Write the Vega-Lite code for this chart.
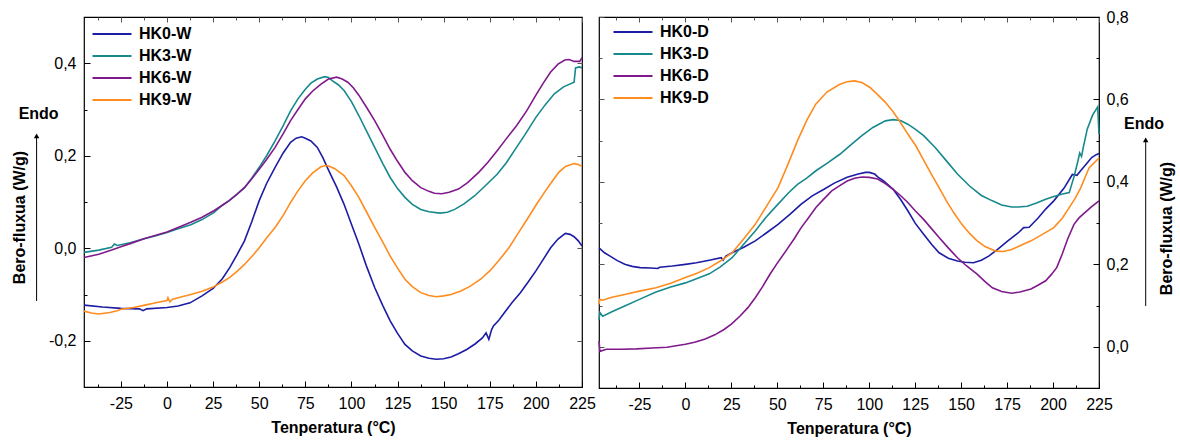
{
  "$schema": "https://vega.github.io/schema/vega-lite/v6.json",
  "background": "white",
  "padding": {"left": 10, "top": 8, "right": 5, "bottom": 5},
  "bounds": "flush",
  "spacing": 17,
  "resolve": {"scale": {"color": "independent"}, "legend": {"color": "independent"}},
  "config": {
    "font": "Liberation Sans",
    "view": {"stroke": "#000", "strokeWidth": 1.2},
    "axis": {
      "grid": false,
      "domain": false,
      "labelFont": "Liberation Sans",
      "labelFontSize": 16,
      "labelColor": "#000",
      "titleFont": "Liberation Sans",
      "titleFontSize": 16,
      "titleFontWeight": "bold",
      "titleColor": "#000",
      "tickColor": "#000",
      "tickWidth": 1,
      "labelFlush": false,
      "labelOverlap": false
    },
    "legend": {
      "labelFont": "Liberation Sans",
      "labelFontSize": 16,
      "labelFontWeight": "bold",
      "labelColor": "#000",
      "padding": 0
    }
  },
  "datasets": {
    "W": [
      {"s": "HK0-W", "t": -45, "q": -0.123}, {"s": "HK0-W", "t": -35, "q": -0.127}, {"s": "HK0-W", "t": -25, "q": -0.130}, {"s": "HK0-W", "t": -15, "q": -0.131}, {"s": "HK0-W", "t": -13, "q": -0.135}, {"s": "HK0-W", "t": -11, "q": -0.131}, {"s": "HK0-W", "t": 0, "q": -0.128}, {"s": "HK0-W", "t": 6, "q": -0.125}, {"s": "HK0-W", "t": 12.5, "q": -0.118}, {"s": "HK0-W", "t": 19, "q": -0.103}, {"s": "HK0-W", "t": 25, "q": -0.087}, {"s": "HK0-W", "t": 30, "q": -0.066}, {"s": "HK0-W", "t": 34, "q": -0.042}, {"s": "HK0-W", "t": 38, "q": -0.014}, {"s": "HK0-W", "t": 42, "q": 0.016}, {"s": "HK0-W", "t": 46, "q": 0.058}, {"s": "HK0-W", "t": 50, "q": 0.103}, {"s": "HK0-W", "t": 54, "q": 0.140}, {"s": "HK0-W", "t": 58.6, "q": 0.175}, {"s": "HK0-W", "t": 63, "q": 0.206}, {"s": "HK0-W", "t": 67, "q": 0.229}, {"s": "HK0-W", "t": 70, "q": 0.238}, {"s": "HK0-W", "t": 73, "q": 0.241}, {"s": "HK0-W", "t": 75, "q": 0.238}, {"s": "HK0-W", "t": 78, "q": 0.232}, {"s": "HK0-W", "t": 81.5, "q": 0.218}, {"s": "HK0-W", "t": 84.5, "q": 0.196}, {"s": "HK0-W", "t": 87.7, "q": 0.168}, {"s": "HK0-W", "t": 92, "q": 0.132}, {"s": "HK0-W", "t": 96, "q": 0.095}, {"s": "HK0-W", "t": 100, "q": 0.052}, {"s": "HK0-W", "t": 104, "q": 0.009}, {"s": "HK0-W", "t": 108, "q": -0.037}, {"s": "HK0-W", "t": 112.6, "q": -0.085}, {"s": "HK0-W", "t": 117, "q": -0.124}, {"s": "HK0-W", "t": 121, "q": -0.157}, {"s": "HK0-W", "t": 125, "q": -0.184}, {"s": "HK0-W", "t": 129, "q": -0.208}, {"s": "HK0-W", "t": 133, "q": -0.222}, {"s": "HK0-W", "t": 137.6, "q": -0.233}, {"s": "HK0-W", "t": 142, "q": -0.238}, {"s": "HK0-W", "t": 146, "q": -0.240}, {"s": "HK0-W", "t": 150, "q": -0.239}, {"s": "HK0-W", "t": 154, "q": -0.235}, {"s": "HK0-W", "t": 158, "q": -0.228}, {"s": "HK0-W", "t": 162.5, "q": -0.219}, {"s": "HK0-W", "t": 167, "q": -0.207}, {"s": "HK0-W", "t": 171, "q": -0.194}, {"s": "HK0-W", "t": 173, "q": -0.183}, {"s": "HK0-W", "t": 174.5, "q": -0.197}, {"s": "HK0-W", "t": 176, "q": -0.176}, {"s": "HK0-W", "t": 177, "q": -0.168}, {"s": "HK0-W", "t": 180, "q": -0.155}, {"s": "HK0-W", "t": 183, "q": -0.139}, {"s": "HK0-W", "t": 187, "q": -0.118}, {"s": "HK0-W", "t": 191.6, "q": -0.096}, {"s": "HK0-W", "t": 196, "q": -0.072}, {"s": "HK0-W", "t": 200, "q": -0.049}, {"s": "HK0-W", "t": 204, "q": -0.024}, {"s": "HK0-W", "t": 208, "q": 0.001}, {"s": "HK0-W", "t": 212, "q": 0.020}, {"s": "HK0-W", "t": 216, "q": 0.032}, {"s": "HK0-W", "t": 218.5, "q": 0.030}, {"s": "HK0-W", "t": 220.7, "q": 0.025}, {"s": "HK0-W", "t": 223, "q": 0.016}, {"s": "HK0-W", "t": 225, "q": 0.005},

      {"s": "HK3-W", "t": -45, "q": -0.009}, {"s": "HK3-W", "t": -37, "q": -0.004}, {"s": "HK3-W", "t": -30, "q": 0.002}, {"s": "HK3-W", "t": -28.5, "q": 0.009}, {"s": "HK3-W", "t": -27, "q": 0.006}, {"s": "HK3-W", "t": -20, "q": 0.012}, {"s": "HK3-W", "t": -12, "q": 0.021}, {"s": "HK3-W", "t": -6, "q": 0.027}, {"s": "HK3-W", "t": 0, "q": 0.034}, {"s": "HK3-W", "t": 6, "q": 0.042}, {"s": "HK3-W", "t": 12.9, "q": 0.051}, {"s": "HK3-W", "t": 19, "q": 0.062}, {"s": "HK3-W", "t": 25.4, "q": 0.077}, {"s": "HK3-W", "t": 30, "q": 0.093}, {"s": "HK3-W", "t": 33.7, "q": 0.103}, {"s": "HK3-W", "t": 38, "q": 0.117}, {"s": "HK3-W", "t": 42, "q": 0.131}, {"s": "HK3-W", "t": 46, "q": 0.152}, {"s": "HK3-W", "t": 50, "q": 0.175}, {"s": "HK3-W", "t": 54, "q": 0.200}, {"s": "HK3-W", "t": 58.6, "q": 0.232}, {"s": "HK3-W", "t": 63, "q": 0.265}, {"s": "HK3-W", "t": 67, "q": 0.297}, {"s": "HK3-W", "t": 71, "q": 0.323}, {"s": "HK3-W", "t": 75, "q": 0.344}, {"s": "HK3-W", "t": 78, "q": 0.357}, {"s": "HK3-W", "t": 81.5, "q": 0.366}, {"s": "HK3-W", "t": 85.6, "q": 0.371}, {"s": "HK3-W", "t": 87.5, "q": 0.369}, {"s": "HK3-W", "t": 89.8, "q": 0.362}, {"s": "HK3-W", "t": 93, "q": 0.353}, {"s": "HK3-W", "t": 96, "q": 0.341}, {"s": "HK3-W", "t": 100, "q": 0.317}, {"s": "HK3-W", "t": 104, "q": 0.287}, {"s": "HK3-W", "t": 108, "q": 0.255}, {"s": "HK3-W", "t": 112.6, "q": 0.218}, {"s": "HK3-W", "t": 117, "q": 0.183}, {"s": "HK3-W", "t": 121, "q": 0.153}, {"s": "HK3-W", "t": 125, "q": 0.129}, {"s": "HK3-W", "t": 129, "q": 0.110}, {"s": "HK3-W", "t": 133, "q": 0.095}, {"s": "HK3-W", "t": 137.6, "q": 0.084}, {"s": "HK3-W", "t": 142, "q": 0.079}, {"s": "HK3-W", "t": 148, "q": 0.076}, {"s": "HK3-W", "t": 152, "q": 0.078}, {"s": "HK3-W", "t": 156, "q": 0.084}, {"s": "HK3-W", "t": 161, "q": 0.096}, {"s": "HK3-W", "t": 166.7, "q": 0.113}, {"s": "HK3-W", "t": 172, "q": 0.133}, {"s": "HK3-W", "t": 179, "q": 0.160}, {"s": "HK3-W", "t": 184, "q": 0.185}, {"s": "HK3-W", "t": 189.5, "q": 0.218}, {"s": "HK3-W", "t": 194, "q": 0.245}, {"s": "HK3-W", "t": 200, "q": 0.283}, {"s": "HK3-W", "t": 205, "q": 0.310}, {"s": "HK3-W", "t": 210, "q": 0.334}, {"s": "HK3-W", "t": 215, "q": 0.349}, {"s": "HK3-W", "t": 220.7, "q": 0.359}, {"s": "HK3-W", "t": 221.5, "q": 0.390}, {"s": "HK3-W", "t": 223.5, "q": 0.392}, {"s": "HK3-W", "t": 225, "q": 0.390},

      {"s": "HK6-W", "t": -45, "q": -0.020}, {"s": "HK6-W", "t": -37, "q": -0.013}, {"s": "HK6-W", "t": -30, "q": -0.004}, {"s": "HK6-W", "t": -25, "q": 0.003}, {"s": "HK6-W", "t": -20, "q": 0.010}, {"s": "HK6-W", "t": -12, "q": 0.021}, {"s": "HK6-W", "t": -6, "q": 0.028}, {"s": "HK6-W", "t": 0, "q": 0.035}, {"s": "HK6-W", "t": 6, "q": 0.045}, {"s": "HK6-W", "t": 12.9, "q": 0.056}, {"s": "HK6-W", "t": 19, "q": 0.067}, {"s": "HK6-W", "t": 25.4, "q": 0.081}, {"s": "HK6-W", "t": 30, "q": 0.093}, {"s": "HK6-W", "t": 33.7, "q": 0.103}, {"s": "HK6-W", "t": 38, "q": 0.117}, {"s": "HK6-W", "t": 42, "q": 0.131}, {"s": "HK6-W", "t": 46, "q": 0.150}, {"s": "HK6-W", "t": 50, "q": 0.171}, {"s": "HK6-W", "t": 54, "q": 0.192}, {"s": "HK6-W", "t": 58.6, "q": 0.218}, {"s": "HK6-W", "t": 63, "q": 0.248}, {"s": "HK6-W", "t": 67, "q": 0.276}, {"s": "HK6-W", "t": 71, "q": 0.300}, {"s": "HK6-W", "t": 75, "q": 0.323}, {"s": "HK6-W", "t": 79, "q": 0.340}, {"s": "HK6-W", "t": 83.5, "q": 0.355}, {"s": "HK6-W", "t": 87.5, "q": 0.366}, {"s": "HK6-W", "t": 92, "q": 0.370}, {"s": "HK6-W", "t": 95, "q": 0.366}, {"s": "HK6-W", "t": 98, "q": 0.359}, {"s": "HK6-W", "t": 101, "q": 0.347}, {"s": "HK6-W", "t": 104, "q": 0.331}, {"s": "HK6-W", "t": 108, "q": 0.306}, {"s": "HK6-W", "t": 112.6, "q": 0.276}, {"s": "HK6-W", "t": 117, "q": 0.244}, {"s": "HK6-W", "t": 121, "q": 0.214}, {"s": "HK6-W", "t": 125, "q": 0.188}, {"s": "HK6-W", "t": 129, "q": 0.164}, {"s": "HK6-W", "t": 133, "q": 0.146}, {"s": "HK6-W", "t": 137.6, "q": 0.131}, {"s": "HK6-W", "t": 142, "q": 0.123}, {"s": "HK6-W", "t": 145, "q": 0.119}, {"s": "HK6-W", "t": 149, "q": 0.118}, {"s": "HK6-W", "t": 153, "q": 0.121}, {"s": "HK6-W", "t": 158, "q": 0.128}, {"s": "HK6-W", "t": 163, "q": 0.142}, {"s": "HK6-W", "t": 169, "q": 0.164}, {"s": "HK6-W", "t": 174, "q": 0.186}, {"s": "HK6-W", "t": 179, "q": 0.211}, {"s": "HK6-W", "t": 184, "q": 0.237}, {"s": "HK6-W", "t": 189.5, "q": 0.265}, {"s": "HK6-W", "t": 195, "q": 0.297}, {"s": "HK6-W", "t": 200, "q": 0.331}, {"s": "HK6-W", "t": 204, "q": 0.357}, {"s": "HK6-W", "t": 208, "q": 0.381}, {"s": "HK6-W", "t": 212, "q": 0.398}, {"s": "HK6-W", "t": 215.7, "q": 0.407}, {"s": "HK6-W", "t": 218, "q": 0.408}, {"s": "HK6-W", "t": 220.7, "q": 0.404}, {"s": "HK6-W", "t": 223.8, "q": 0.404}, {"s": "HK6-W", "t": 225, "q": 0.412},

      {"s": "HK9-W", "t": -45, "q": -0.136}, {"s": "HK9-W", "t": -41, "q": -0.140}, {"s": "HK9-W", "t": -37, "q": -0.142}, {"s": "HK9-W", "t": -31, "q": -0.139}, {"s": "HK9-W", "t": -27, "q": -0.135}, {"s": "HK9-W", "t": -25, "q": -0.132}, {"s": "HK9-W", "t": -18, "q": -0.128}, {"s": "HK9-W", "t": -12, "q": -0.123}, {"s": "HK9-W", "t": -6, "q": -0.118}, {"s": "HK9-W", "t": 0, "q": -0.113}, {"s": "HK9-W", "t": 0.5, "q": -0.107}, {"s": "HK9-W", "t": 1.5, "q": -0.116}, {"s": "HK9-W", "t": 3, "q": -0.110}, {"s": "HK9-W", "t": 6, "q": -0.107}, {"s": "HK9-W", "t": 12.9, "q": -0.100}, {"s": "HK9-W", "t": 19, "q": -0.093}, {"s": "HK9-W", "t": 25, "q": -0.084}, {"s": "HK9-W", "t": 30, "q": -0.073}, {"s": "HK9-W", "t": 33.7, "q": -0.064}, {"s": "HK9-W", "t": 38, "q": -0.050}, {"s": "HK9-W", "t": 42, "q": -0.035}, {"s": "HK9-W", "t": 46, "q": -0.018}, {"s": "HK9-W", "t": 50, "q": 0.001}, {"s": "HK9-W", "t": 54, "q": 0.022}, {"s": "HK9-W", "t": 58.6, "q": 0.045}, {"s": "HK9-W", "t": 63, "q": 0.071}, {"s": "HK9-W", "t": 67, "q": 0.099}, {"s": "HK9-W", "t": 71, "q": 0.124}, {"s": "HK9-W", "t": 75, "q": 0.146}, {"s": "HK9-W", "t": 79, "q": 0.163}, {"s": "HK9-W", "t": 83.5, "q": 0.176}, {"s": "HK9-W", "t": 86, "q": 0.179}, {"s": "HK9-W", "t": 87.7, "q": 0.178}, {"s": "HK9-W", "t": 91, "q": 0.172}, {"s": "HK9-W", "t": 96, "q": 0.157}, {"s": "HK9-W", "t": 100, "q": 0.135}, {"s": "HK9-W", "t": 104, "q": 0.110}, {"s": "HK9-W", "t": 108, "q": 0.080}, {"s": "HK9-W", "t": 112.6, "q": 0.045}, {"s": "HK9-W", "t": 117, "q": 0.013}, {"s": "HK9-W", "t": 121, "q": -0.017}, {"s": "HK9-W", "t": 125, "q": -0.043}, {"s": "HK9-W", "t": 129, "q": -0.067}, {"s": "HK9-W", "t": 133, "q": -0.083}, {"s": "HK9-W", "t": 137.6, "q": -0.096}, {"s": "HK9-W", "t": 142, "q": -0.102}, {"s": "HK9-W", "t": 146, "q": -0.105}, {"s": "HK9-W", "t": 150, "q": -0.103}, {"s": "HK9-W", "t": 154, "q": -0.100}, {"s": "HK9-W", "t": 159, "q": -0.093}, {"s": "HK9-W", "t": 164.5, "q": -0.082}, {"s": "HK9-W", "t": 170, "q": -0.067}, {"s": "HK9-W", "t": 175, "q": -0.049}, {"s": "HK9-W", "t": 180, "q": -0.026}, {"s": "HK9-W", "t": 185.4, "q": 0.001}, {"s": "HK9-W", "t": 190, "q": 0.030}, {"s": "HK9-W", "t": 195.8, "q": 0.066}, {"s": "HK9-W", "t": 200, "q": 0.093}, {"s": "HK9-W", "t": 204, "q": 0.117}, {"s": "HK9-W", "t": 208, "q": 0.140}, {"s": "HK9-W", "t": 212.4, "q": 0.164}, {"s": "HK9-W", "t": 216, "q": 0.177}, {"s": "HK9-W", "t": 220.7, "q": 0.183}, {"s": "HK9-W", "t": 223, "q": 0.181}, {"s": "HK9-W", "t": 225, "q": 0.177}
    ],
    "D": [
      {"s": "HK0-D", "t": -47, "q": 0.240}, {"s": "HK0-D", "t": -44, "q": 0.228}, {"s": "HK0-D", "t": -41, "q": 0.220}, {"s": "HK0-D", "t": -37, "q": 0.209}, {"s": "HK0-D", "t": -33, "q": 0.200}, {"s": "HK0-D", "t": -29, "q": 0.195}, {"s": "HK0-D", "t": -24.6, "q": 0.192}, {"s": "HK0-D", "t": -19, "q": 0.191}, {"s": "HK0-D", "t": -15, "q": 0.190}, {"s": "HK0-D", "t": -14, "q": 0.193}, {"s": "HK0-D", "t": -7, "q": 0.196}, {"s": "HK0-D", "t": 0, "q": 0.200}, {"s": "HK0-D", "t": 6, "q": 0.204}, {"s": "HK0-D", "t": 13, "q": 0.210}, {"s": "HK0-D", "t": 19.5, "q": 0.216}, {"s": "HK0-D", "t": 20.5, "q": 0.210}, {"s": "HK0-D", "t": 22, "q": 0.220}, {"s": "HK0-D", "t": 25.4, "q": 0.228}, {"s": "HK0-D", "t": 32, "q": 0.242}, {"s": "HK0-D", "t": 38, "q": 0.257}, {"s": "HK0-D", "t": 44, "q": 0.276}, {"s": "HK0-D", "t": 50.4, "q": 0.297}, {"s": "HK0-D", "t": 57, "q": 0.322}, {"s": "HK0-D", "t": 63, "q": 0.346}, {"s": "HK0-D", "t": 69, "q": 0.366}, {"s": "HK0-D", "t": 75.4, "q": 0.382}, {"s": "HK0-D", "t": 81, "q": 0.397}, {"s": "HK0-D", "t": 88, "q": 0.411}, {"s": "HK0-D", "t": 94, "q": 0.419}, {"s": "HK0-D", "t": 98, "q": 0.423}, {"s": "HK0-D", "t": 100, "q": 0.423}, {"s": "HK0-D", "t": 103, "q": 0.419}, {"s": "HK0-D", "t": 104.6, "q": 0.412}, {"s": "HK0-D", "t": 108, "q": 0.402}, {"s": "HK0-D", "t": 113, "q": 0.382}, {"s": "HK0-D", "t": 117, "q": 0.358}, {"s": "HK0-D", "t": 121, "q": 0.330}, {"s": "HK0-D", "t": 125, "q": 0.300}, {"s": "HK0-D", "t": 129.6, "q": 0.273}, {"s": "HK0-D", "t": 134, "q": 0.248}, {"s": "HK0-D", "t": 138, "q": 0.228}, {"s": "HK0-D", "t": 143, "q": 0.215}, {"s": "HK0-D", "t": 148, "q": 0.208}, {"s": "HK0-D", "t": 152, "q": 0.205}, {"s": "HK0-D", "t": 156.7, "q": 0.204}, {"s": "HK0-D", "t": 161, "q": 0.210}, {"s": "HK0-D", "t": 165, "q": 0.220}, {"s": "HK0-D", "t": 170, "q": 0.237}, {"s": "HK0-D", "t": 175.4, "q": 0.257}, {"s": "HK0-D", "t": 181, "q": 0.276}, {"s": "HK0-D", "t": 184, "q": 0.289}, {"s": "HK0-D", "t": 187, "q": 0.290}, {"s": "HK0-D", "t": 192, "q": 0.313}, {"s": "HK0-D", "t": 196, "q": 0.334}, {"s": "HK0-D", "t": 200.4, "q": 0.354}, {"s": "HK0-D", "t": 206, "q": 0.385}, {"s": "HK0-D", "t": 210.5, "q": 0.418}, {"s": "HK0-D", "t": 213, "q": 0.416}, {"s": "HK0-D", "t": 215, "q": 0.427}, {"s": "HK0-D", "t": 218, "q": 0.443}, {"s": "HK0-D", "t": 221, "q": 0.459}, {"s": "HK0-D", "t": 223.5, "q": 0.466}, {"s": "HK0-D", "t": 225, "q": 0.469},

      {"s": "HK3-D", "t": -47, "q": 0.066}, {"s": "HK3-D", "t": -46.5, "q": 0.083}, {"s": "HK3-D", "t": -45, "q": 0.074}, {"s": "HK3-D", "t": -40, "q": 0.085}, {"s": "HK3-D", "t": -33, "q": 0.099}, {"s": "HK3-D", "t": -25, "q": 0.115}, {"s": "HK3-D", "t": -16, "q": 0.133}, {"s": "HK3-D", "t": -8, "q": 0.145}, {"s": "HK3-D", "t": 0, "q": 0.155}, {"s": "HK3-D", "t": 6, "q": 0.165}, {"s": "HK3-D", "t": 13, "q": 0.177}, {"s": "HK3-D", "t": 19, "q": 0.194}, {"s": "HK3-D", "t": 25.4, "q": 0.216}, {"s": "HK3-D", "t": 31, "q": 0.245}, {"s": "HK3-D", "t": 38, "q": 0.281}, {"s": "HK3-D", "t": 44, "q": 0.315}, {"s": "HK3-D", "t": 50.4, "q": 0.346}, {"s": "HK3-D", "t": 56, "q": 0.373}, {"s": "HK3-D", "t": 61, "q": 0.394}, {"s": "HK3-D", "t": 66, "q": 0.409}, {"s": "HK3-D", "t": 71, "q": 0.427}, {"s": "HK3-D", "t": 77, "q": 0.445}, {"s": "HK3-D", "t": 84, "q": 0.467}, {"s": "HK3-D", "t": 90, "q": 0.490}, {"s": "HK3-D", "t": 96, "q": 0.512}, {"s": "HK3-D", "t": 102, "q": 0.532}, {"s": "HK3-D", "t": 108.8, "q": 0.548}, {"s": "HK3-D", "t": 113, "q": 0.551}, {"s": "HK3-D", "t": 117, "q": 0.549}, {"s": "HK3-D", "t": 121, "q": 0.540}, {"s": "HK3-D", "t": 125, "q": 0.528}, {"s": "HK3-D", "t": 129.6, "q": 0.512}, {"s": "HK3-D", "t": 136, "q": 0.483}, {"s": "HK3-D", "t": 142, "q": 0.451}, {"s": "HK3-D", "t": 148, "q": 0.419}, {"s": "HK3-D", "t": 154.6, "q": 0.390}, {"s": "HK3-D", "t": 161, "q": 0.367}, {"s": "HK3-D", "t": 167, "q": 0.354}, {"s": "HK3-D", "t": 172, "q": 0.344}, {"s": "HK3-D", "t": 177.5, "q": 0.339}, {"s": "HK3-D", "t": 181, "q": 0.339}, {"s": "HK3-D", "t": 186, "q": 0.341}, {"s": "HK3-D", "t": 191, "q": 0.349}, {"s": "HK3-D", "t": 196, "q": 0.358}, {"s": "HK3-D", "t": 200, "q": 0.364}, {"s": "HK3-D", "t": 204.6, "q": 0.370}, {"s": "HK3-D", "t": 208.8, "q": 0.374}, {"s": "HK3-D", "t": 211.5, "q": 0.414}, {"s": "HK3-D", "t": 213.5, "q": 0.450}, {"s": "HK3-D", "t": 214.5, "q": 0.470}, {"s": "HK3-D", "t": 215.5, "q": 0.462}, {"s": "HK3-D", "t": 216.5, "q": 0.485}, {"s": "HK3-D", "t": 218.6, "q": 0.528}, {"s": "HK3-D", "t": 221.5, "q": 0.562}, {"s": "HK3-D", "t": 224.3, "q": 0.582}, {"s": "HK3-D", "t": 225, "q": 0.516},

      {"s": "HK6-D", "t": -47, "q": 0.014}, {"s": "HK6-D", "t": -46.5, "q": -0.011}, {"s": "HK6-D", "t": -43, "q": -0.006}, {"s": "HK6-D", "t": -35, "q": -0.006}, {"s": "HK6-D", "t": -26.7, "q": -0.005}, {"s": "HK6-D", "t": -18, "q": -0.003}, {"s": "HK6-D", "t": -10, "q": -0.001}, {"s": "HK6-D", "t": 0, "q": 0.006}, {"s": "HK6-D", "t": 5, "q": 0.011}, {"s": "HK6-D", "t": 10.8, "q": 0.019}, {"s": "HK6-D", "t": 16, "q": 0.029}, {"s": "HK6-D", "t": 21, "q": 0.042}, {"s": "HK6-D", "t": 25, "q": 0.055}, {"s": "HK6-D", "t": 29.6, "q": 0.074}, {"s": "HK6-D", "t": 34, "q": 0.095}, {"s": "HK6-D", "t": 38, "q": 0.119}, {"s": "HK6-D", "t": 42, "q": 0.146}, {"s": "HK6-D", "t": 46, "q": 0.176}, {"s": "HK6-D", "t": 50, "q": 0.203}, {"s": "HK6-D", "t": 54.6, "q": 0.232}, {"s": "HK6-D", "t": 59, "q": 0.261}, {"s": "HK6-D", "t": 63, "q": 0.289}, {"s": "HK6-D", "t": 67, "q": 0.313}, {"s": "HK6-D", "t": 71, "q": 0.338}, {"s": "HK6-D", "t": 75, "q": 0.357}, {"s": "HK6-D", "t": 79.6, "q": 0.378}, {"s": "HK6-D", "t": 84, "q": 0.391}, {"s": "HK6-D", "t": 88, "q": 0.402}, {"s": "HK6-D", "t": 92, "q": 0.409}, {"s": "HK6-D", "t": 96, "q": 0.412}, {"s": "HK6-D", "t": 100, "q": 0.411}, {"s": "HK6-D", "t": 104.6, "q": 0.407}, {"s": "HK6-D", "t": 108, "q": 0.398}, {"s": "HK6-D", "t": 113, "q": 0.382}, {"s": "HK6-D", "t": 117, "q": 0.367}, {"s": "HK6-D", "t": 121, "q": 0.350}, {"s": "HK6-D", "t": 125, "q": 0.330}, {"s": "HK6-D", "t": 129.6, "q": 0.309}, {"s": "HK6-D", "t": 134, "q": 0.286}, {"s": "HK6-D", "t": 138, "q": 0.265}, {"s": "HK6-D", "t": 143, "q": 0.240}, {"s": "HK6-D", "t": 148, "q": 0.216}, {"s": "HK6-D", "t": 153, "q": 0.196}, {"s": "HK6-D", "t": 158.7, "q": 0.176}, {"s": "HK6-D", "t": 163, "q": 0.158}, {"s": "HK6-D", "t": 167, "q": 0.143}, {"s": "HK6-D", "t": 172, "q": 0.134}, {"s": "HK6-D", "t": 177.5, "q": 0.130}, {"s": "HK6-D", "t": 182, "q": 0.133}, {"s": "HK6-D", "t": 188, "q": 0.140}, {"s": "HK6-D", "t": 192, "q": 0.150}, {"s": "HK6-D", "t": 196, "q": 0.160}, {"s": "HK6-D", "t": 199, "q": 0.175}, {"s": "HK6-D", "t": 202, "q": 0.192}, {"s": "HK6-D", "t": 205, "q": 0.225}, {"s": "HK6-D", "t": 208, "q": 0.262}, {"s": "HK6-D", "t": 211.4, "q": 0.297}, {"s": "HK6-D", "t": 214, "q": 0.312}, {"s": "HK6-D", "t": 217, "q": 0.324}, {"s": "HK6-D", "t": 221, "q": 0.340}, {"s": "HK6-D", "t": 225, "q": 0.354},

      {"s": "HK9-D", "t": -47, "q": 0.103}, {"s": "HK9-D", "t": -46.5, "q": 0.115}, {"s": "HK9-D", "t": -45, "q": 0.113}, {"s": "HK9-D", "t": -40, "q": 0.120}, {"s": "HK9-D", "t": -33, "q": 0.127}, {"s": "HK9-D", "t": -25, "q": 0.135}, {"s": "HK9-D", "t": -16, "q": 0.143}, {"s": "HK9-D", "t": -8, "q": 0.154}, {"s": "HK9-D", "t": 0, "q": 0.168}, {"s": "HK9-D", "t": 6, "q": 0.178}, {"s": "HK9-D", "t": 13, "q": 0.192}, {"s": "HK9-D", "t": 19, "q": 0.208}, {"s": "HK9-D", "t": 25.4, "q": 0.228}, {"s": "HK9-D", "t": 31, "q": 0.258}, {"s": "HK9-D", "t": 38, "q": 0.297}, {"s": "HK9-D", "t": 44, "q": 0.340}, {"s": "HK9-D", "t": 50.4, "q": 0.386}, {"s": "HK9-D", "t": 56, "q": 0.445}, {"s": "HK9-D", "t": 61, "q": 0.500}, {"s": "HK9-D", "t": 66, "q": 0.549}, {"s": "HK9-D", "t": 71, "q": 0.589}, {"s": "HK9-D", "t": 77, "q": 0.618}, {"s": "HK9-D", "t": 84, "q": 0.637}, {"s": "HK9-D", "t": 88, "q": 0.643}, {"s": "HK9-D", "t": 92, "q": 0.645}, {"s": "HK9-D", "t": 96, "q": 0.641}, {"s": "HK9-D", "t": 100.4, "q": 0.629}, {"s": "HK9-D", "t": 104, "q": 0.614}, {"s": "HK9-D", "t": 108.8, "q": 0.593}, {"s": "HK9-D", "t": 113, "q": 0.570}, {"s": "HK9-D", "t": 117, "q": 0.544}, {"s": "HK9-D", "t": 121, "q": 0.516}, {"s": "HK9-D", "t": 125.4, "q": 0.487}, {"s": "HK9-D", "t": 129.6, "q": 0.453}, {"s": "HK9-D", "t": 133.8, "q": 0.419}, {"s": "HK9-D", "t": 138, "q": 0.386}, {"s": "HK9-D", "t": 142, "q": 0.354}, {"s": "HK9-D", "t": 146, "q": 0.325}, {"s": "HK9-D", "t": 150.4, "q": 0.297}, {"s": "HK9-D", "t": 154.6, "q": 0.275}, {"s": "HK9-D", "t": 158.7, "q": 0.257}, {"s": "HK9-D", "t": 163, "q": 0.243}, {"s": "HK9-D", "t": 169, "q": 0.232}, {"s": "HK9-D", "t": 173, "q": 0.231}, {"s": "HK9-D", "t": 177.5, "q": 0.236}, {"s": "HK9-D", "t": 182, "q": 0.245}, {"s": "HK9-D", "t": 188, "q": 0.257}, {"s": "HK9-D", "t": 194, "q": 0.272}, {"s": "HK9-D", "t": 200.4, "q": 0.289}, {"s": "HK9-D", "t": 205, "q": 0.312}, {"s": "HK9-D", "t": 208.7, "q": 0.337}, {"s": "HK9-D", "t": 212, "q": 0.360}, {"s": "HK9-D", "t": 215, "q": 0.385}, {"s": "HK9-D", "t": 217.5, "q": 0.412}, {"s": "HK9-D", "t": 219.6, "q": 0.434}, {"s": "HK9-D", "t": 225, "q": 0.458}
    ],
    "annW": [{"label": "Endo", "x": -70.7, "xt": -69.6, "yt": 0.290, "y": -0.114, "y2": 0.240, "tip": 0.243}],
    "annD": [{"label": "Endo", "x": 250.4, "xt": 249.5, "yt": 0.541, "y": 0.099, "y2": 0.500, "tip": 0.502}]
  },
  "hconcat": [
    {
      "width": 498,
      "height": 370,
      "layer": [
        {
          "data": {"name": "W"},
          "mark": {"type": "line", "strokeWidth": 1.6},
          "encoding": {
            "x": {
              "field": "t", "type": "quantitative",
              "scale": {"domain": [-45, 225], "nice": false, "zero": false},
              "axis": {
                "orient": "bottom", "ticks": false,
                "values": [-25, 0, 25, 50, 75, 100, 125, 150, 175, 200, 225],
                "labelExpr": "toString(datum.value)",
                "labelPadding": 8,
                "title": "Tenperatura (°C)",
                "titlePadding": 8
              }
            },
            "y": {
              "field": "q", "type": "quantitative",
              "scale": {"domain": [-0.3, 0.5], "nice": false, "zero": false},
              "axis": {
                "orient": "left", "ticks": false,
                "values": [-0.2, 0, 0.2, 0.4],
                "labelExpr": "replace(replace(format(datum.value, '.1f'), '.', ','), '\u2212', '-')",
                "labelPadding": 8,
                "title": "Bero-fluxua (W/g)",
                "titleX": -57,
                "titleY": 200
              }
            },
            "color": {
              "field": "s", "type": "nominal",
              "scale": {"domain": ["HK0-W", "HK3-W", "HK6-W", "HK9-W"], "range": ["#1c1ca5", "#17898c", "#801a8c", "#ff8c1e"]},
              "legend": {
                "orient": "none", "legendX": 20, "legendY": 9, "title": null,
                "symbolType": "M-3,0H3", "symbolSize": 169, "symbolStrokeWidth": 2,
                "labelOffset": 19, "rowPadding": 6
              }
            }
          }
        },
        {
          "data": {"name": "annW"},
          "mark": {"type": "rule", "strokeWidth": 1, "color": "#000", "clip": false},
          "encoding": {
            "x": {"field": "x", "type": "quantitative", "axis": {
              "orient": "bottom", "values": [-25, 0, 25, 50, 75, 100, 125, 150, 175, 200, 225],
              "labels": false, "title": null, "tickSize": -6
            }},
            "y": {"field": "y", "type": "quantitative", "axis": {
              "orient": "left", "values": [-0.2, 0, 0.2, 0.4],
              "labels": false, "title": null, "tickSize": -6
            }},
            "y2": {"field": "y2"}
          }
        },
        {
          "data": {"name": "annW"},
          "mark": {"type": "point", "shape": "triangle-up", "filled": true, "color": "#000", "size": 30, "opacity": 1, "clip": false},
          "encoding": {
            "x": {"field": "x", "type": "quantitative", "axis": {
              "orient": "bottom", "values": [-37.5, -12.5, 12.5, 37.5, 62.5, 87.5, 112.5, 137.5, 162.5, 187.5, 212.5],
              "labels": false, "title": null, "tickSize": -3
            }},
            "y": {"field": "tip", "type": "quantitative", "axis": {
              "orient": "left", "values": [-0.1, 0.1, 0.3],
              "labels": false, "title": null, "tickSize": -3
            }}
          }
        },
        {
          "data": {"name": "annW"},
          "mark": {"type": "text", "fontSize": 16, "fontWeight": "bold", "color": "#000", "clip": false},
          "encoding": {
            "x": {"field": "xt", "type": "quantitative", "axis": {
              "orient": "top", "values": [-25, 0, 25, 50, 75, 100, 125, 150, 175, 200, 225],
              "labels": false, "title": null, "tickSize": -5, "tickColor": "#555"
            }},
            "y": {"field": "yt", "type": "quantitative", "axis": {
              "orient": "right", "values": [-0.2, 0, 0.2, 0.4],
              "labels": false, "title": null, "tickSize": -5, "tickColor": "#555"
            }},
            "text": {"field": "label"}
          }
        },
        {
          "data": {"name": "annW"},
          "mark": {"type": "point", "opacity": 0, "clip": false},
          "encoding": {
            "x": {"field": "xt", "type": "quantitative", "axis": {
              "orient": "top", "values": [-37.5, -12.5, 12.5, 37.5, 62.5, 87.5, 112.5, 137.5, 162.5, 187.5, 212.5],
              "labels": false, "title": null, "tickSize": -3, "tickColor": "#555"
            }},
            "y": {"field": "yt", "type": "quantitative", "axis": {
              "orient": "right", "values": [-0.1, 0.1, 0.3],
              "labels": false, "title": null, "tickSize": -3, "tickColor": "#555"
            }}
          }
        }
      ],
      "resolve": {"axis": {"x": "independent", "y": "independent"}}
    },
    {
      "width": 500,
      "height": 371,
      "layer": [
        {
          "data": {"name": "D"},
          "mark": {"type": "line", "strokeWidth": 1.6},
          "encoding": {
            "x": {
              "field": "t", "type": "quantitative",
              "scale": {"domain": [-47, 225], "nice": false, "zero": false},
              "axis": {
                "orient": "bottom", "ticks": false,
                "values": [-25, 0, 25, 50, 75, 100, 125, 150, 175, 200, 225],
                "labelExpr": "toString(datum.value)",
                "labelPadding": 8,
                "title": "Tenperatura (°C)",
                "titlePadding": 8
              }
            },
            "y": {
              "field": "q", "type": "quantitative",
              "scale": {"domain": [-0.1, 0.8], "nice": false, "zero": false},
              "axis": {
                "orient": "right", "ticks": false,
                "values": [0, 0.2, 0.4, 0.6, 0.8],
                "labelExpr": "replace(replace(format(datum.value, '.1f'), '.', ','), '\u2212', '-')",
                "labelPadding": 7,
                "title": "Bero-fluxua (W/g)",
                "titleAngle": 270,
                "titleX": 75,
                "titleY": 211
              }
            },
            "color": {
              "field": "s", "type": "nominal",
              "scale": {"domain": ["HK0-D", "HK3-D", "HK6-D", "HK9-D"], "range": ["#1c1ca5", "#17898c", "#801a8c", "#ff8c1e"]},
              "legend": {
                "orient": "none", "legendX": 26, "legendY": 7, "title": null,
                "symbolType": "M-3,0H3", "symbolSize": 169, "symbolStrokeWidth": 2,
                "labelOffset": 19, "rowPadding": 6
              }
            }
          }
        },
        {
          "data": {"name": "annD"},
          "mark": {"type": "rule", "strokeWidth": 1, "color": "#000", "clip": false},
          "encoding": {
            "x": {"field": "x", "type": "quantitative", "axis": {
              "orient": "bottom", "values": [-25, 0, 25, 50, 75, 100, 125, 150, 175, 200, 225],
              "labels": false, "title": null, "tickSize": -6
            }},
            "y": {"field": "y", "type": "quantitative", "axis": {
              "orient": "right", "values": [0, 0.2, 0.4, 0.6, 0.8],
              "labels": false, "title": null, "tickSize": -6
            }},
            "y2": {"field": "y2"}
          }
        },
        {
          "data": {"name": "annD"},
          "mark": {"type": "point", "shape": "triangle-up", "filled": true, "color": "#000", "size": 30, "opacity": 1, "clip": false},
          "encoding": {
            "x": {"field": "x", "type": "quantitative", "axis": {
              "orient": "bottom", "values": [-37.5, -12.5, 12.5, 37.5, 62.5, 87.5, 112.5, 137.5, 162.5, 187.5, 212.5],
              "labels": false, "title": null, "tickSize": -3
            }},
            "y": {"field": "tip", "type": "quantitative", "axis": {
              "orient": "right", "values": [0.1, 0.3, 0.5, 0.7],
              "labels": false, "title": null, "tickSize": -3
            }}
          }
        },
        {
          "data": {"name": "annD"},
          "mark": {"type": "text", "fontSize": 16, "fontWeight": "bold", "color": "#000", "clip": false},
          "encoding": {
            "x": {"field": "xt", "type": "quantitative", "axis": {
              "orient": "top", "values": [-25, 0, 25, 50, 75, 100, 125, 150, 175, 200, 225],
              "labels": false, "title": null, "tickSize": -5, "tickColor": "#555"
            }},
            "y": {"field": "yt", "type": "quantitative", "axis": {
              "orient": "left", "values": [0, 0.2, 0.4, 0.6, 0.8],
              "labels": false, "title": null, "tickSize": -5, "tickColor": "#555"
            }},
            "text": {"field": "label"}
          }
        },
        {
          "data": {"name": "annD"},
          "mark": {"type": "point", "opacity": 0, "clip": false},
          "encoding": {
            "x": {"field": "xt", "type": "quantitative", "axis": {
              "orient": "top", "values": [-37.5, -12.5, 12.5, 37.5, 62.5, 87.5, 112.5, 137.5, 162.5, 187.5, 212.5],
              "labels": false, "title": null, "tickSize": -3, "tickColor": "#555"
            }},
            "y": {"field": "yt", "type": "quantitative", "axis": {
              "orient": "left", "values": [0.1, 0.3, 0.5, 0.7],
              "labels": false, "title": null, "tickSize": -3, "tickColor": "#555"
            }}
          }
        }
      ],
      "resolve": {"axis": {"x": "independent", "y": "independent"}}
    }
  ]
}
